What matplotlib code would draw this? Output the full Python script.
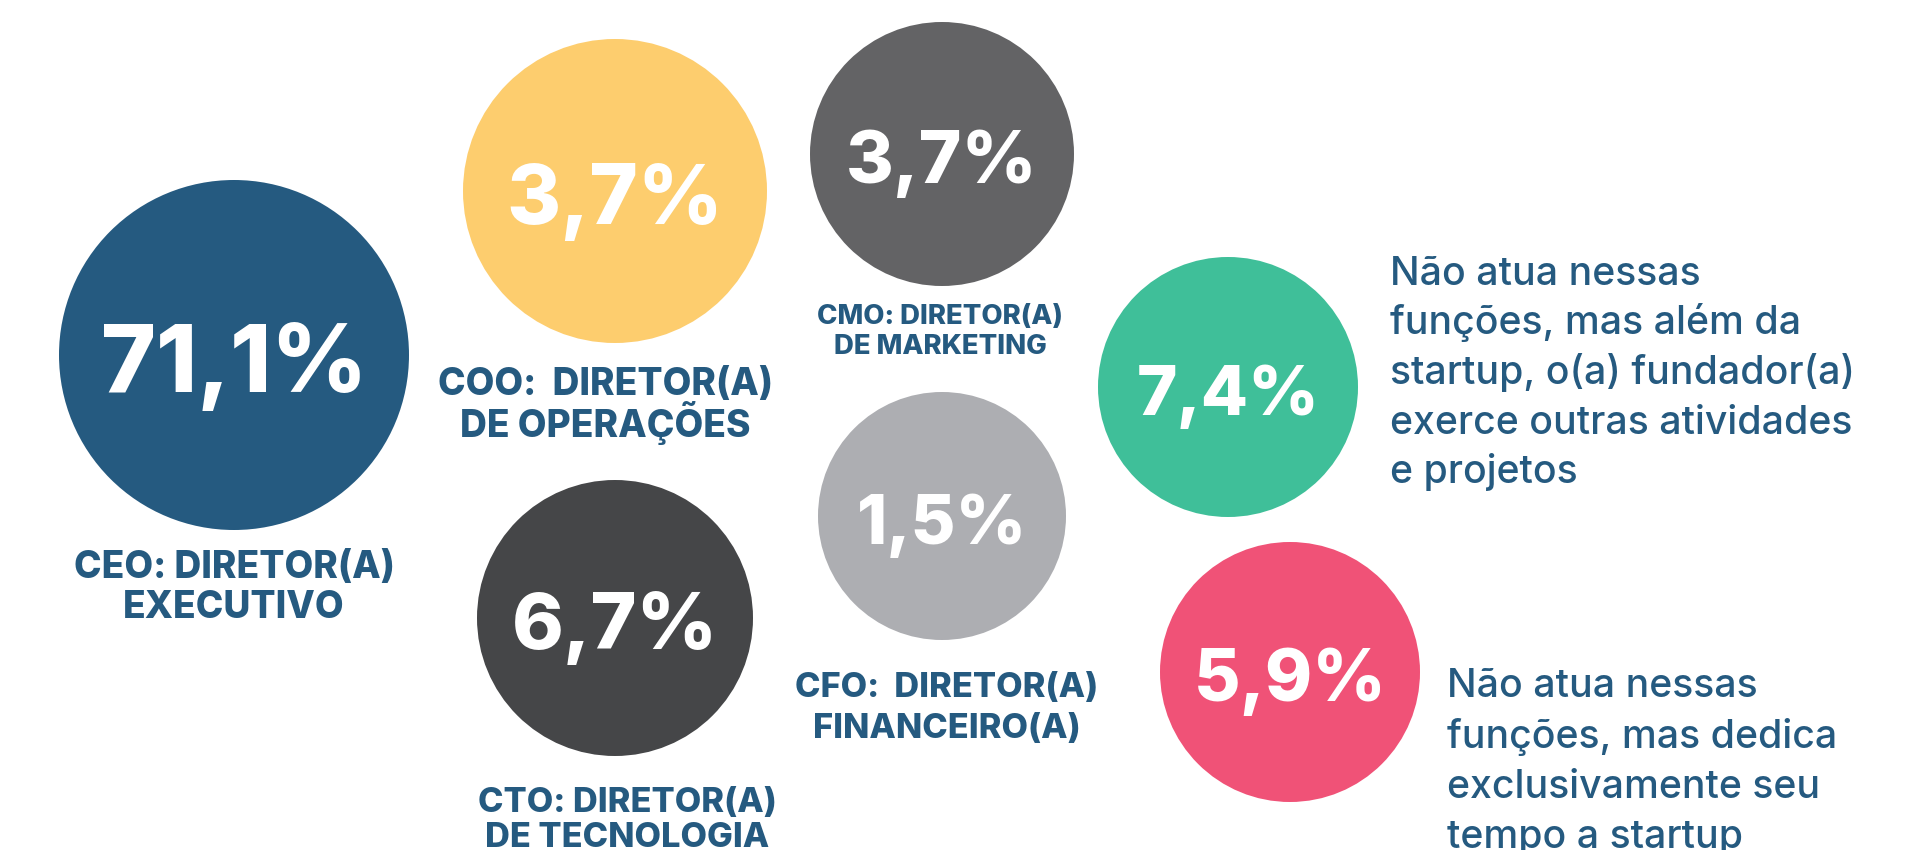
import matplotlib
matplotlib.use("Agg")
import matplotlib.pyplot as plt
from matplotlib.patches import Circle

# data
roles = ["CEO: DIRETOR(A)\nEXECUTIVO",
         "COO:  DIRETOR(A)\nDE OPERAÇÕES",
         "CMO: DIRETOR(A)\nDE MARKETING",
         "CTO: DIRETOR(A)\nDE TECNOLOGIA",
         "CFO:  DIRETOR(A)\nFINANCEIRO(A)",
         "Não atua nessas\nfunções, mas além da\nstartup, o(a) fundador(a)\nexerce outras atividades\ne projetos",
         "Não atua nessas\nfunções, mas dedica\nexclusivamente seu\ntempo a startup"]
shares = [71.1, 3.7, 3.7, 6.7, 1.5, 7.4, 5.9]
colors = ["#255a80", "#fdcd6e", "#636365", "#454648", "#adaeb2", "#3fbf99", "#f05277"]

# layout (pixels): circle centre, radius, value cap height
cx = [234, 615, 942, 615, 942, 1228, 1290]
cy = [355, 191, 154, 618, 516, 387, 672]
rad = [175, 152, 132, 138, 124, 130, 130]
cap = [68, 60, 53, 57, 50, 50, 52]
# label: x, first baseline, line step, cap height, alignment
lab_x = [234, 605, 940, 627, 947, 1390, 1447]
lab_y = [578, 395, 324, 812, 697, 285, 697]
lab_dy = [40, 42, 30, 35, 41, 49.5, 50.5]
lab_cap = [27, 27, 20, 25, 25, 28.5, 28.5]
lab_ha = ["center"] * 5 + ["left"] * 2

TXT = "#255a80"
FONT = "Inter"


def cap_to_pt(c, ratio=0.727):
    # cap height as fraction of em; dpi 100 -> pt = px * 0.72
    return c / ratio * 0.72


fig = plt.figure(figsize=(19.26, 8.5), dpi=100)
ax = fig.add_axes([0, 0, 1, 1])
ax.set_xlim(0, 1926)
ax.set_ylim(850, 0)
ax.set_aspect("equal")
ax.axis("off")

for i in range(len(shares)):
    ax.add_patch(Circle((cx[i], cy[i]), rad[i], color=colors[i], lw=0))
    txt = f"{shares[i]:.1f}".replace(".", ",") + "%"
    ax.text(cx[i], cy[i] + cap[i] * 0.55, txt, ha="center", va="baseline",
            color="white", fontsize=cap_to_pt(cap[i]), fontweight="heavy",
            family=FONT)
    weight = "extra bold" if i < 5 else "medium"
    for k, line in enumerate(roles[i].split("\n")):
        ax.text(lab_x[i], lab_y[i] + k * lab_dy[i], line, ha=lab_ha[i],
                va="baseline", color=TXT, fontsize=cap_to_pt(lab_cap[i]),
                fontweight=weight, family=FONT)

fig.savefig("out.png", dpi=100, facecolor="white")
